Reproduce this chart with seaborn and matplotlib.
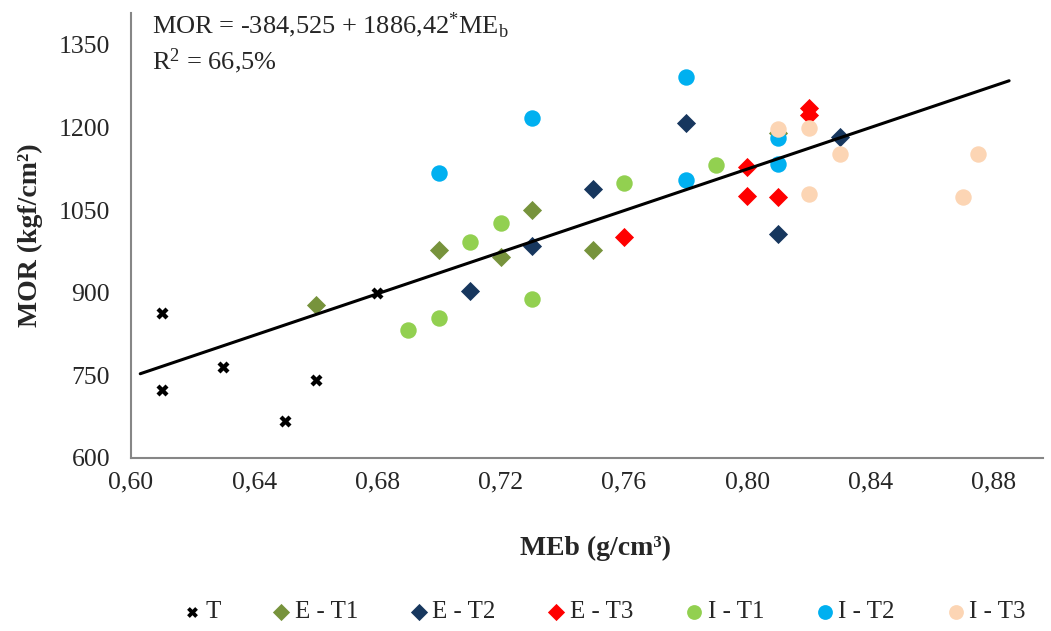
import matplotlib
matplotlib.use("Agg")
import matplotlib.pyplot as plt
import seaborn as sns
import numpy as np
from matplotlib.ticker import FixedLocator, FuncFormatter

# Measured panel density (MEb, g/cm³) and modulus of rupture (MOR, kgf/cm²)
t_meb = [0.61, 0.61, 0.63, 0.65, 0.66, 0.68]
t_mor = [863, 723, 765, 667, 742, 899]

e_t1_meb = [0.66, 0.70, 0.72, 0.73, 0.75, 0.81]
e_t1_mor = [878, 977, 965, 1050, 977, 1190]

e_t2_meb = [0.71, 0.73, 0.75, 0.78, 0.81, 0.83]
e_t2_mor = [903, 985, 1088, 1208, 1006, 1183]

e_t3_meb = [0.76, 0.80, 0.80, 0.81, 0.82, 0.82]
e_t3_mor = [1001, 1128, 1075, 1074, 1235, 1222]

i_t1_meb = [0.69, 0.70, 0.71, 0.72, 0.73, 0.76, 0.79]
i_t1_mor = [832, 854, 992, 1026, 889, 1099, 1132]

i_t2_meb = [0.70, 0.73, 0.78, 0.78, 0.81, 0.81]
i_t2_mor = [1117, 1218, 1291, 1104, 1181, 1134]

i_t3_meb = [0.81, 0.82, 0.82, 0.83, 0.87, 0.875]
i_t3_mor = [1197, 1199, 1079, 1152, 1074, 1152]

# Fitted regression: MOR = a + b * MEb
intercept = -384.525
slope = 1886.42
fit_range = [0.603, 0.885]

x_ticks = [0.60, 0.64, 0.68, 0.72, 0.76, 0.80, 0.84, 0.88]
y_ticks = [600, 750, 900, 1050, 1200, 1350]

sns.set_style("white")
plt.rcParams["font.family"] = ["Liberation Serif", "DejaVu Serif"]
plt.rcParams["mathtext.fontset"] = "custom"
plt.rcParams["mathtext.rm"] = "Liberation Serif"
plt.rcParams["mathtext.it"] = "Liberation Serif:italic"

W, H = 1051, 631
fig = plt.figure(figsize=(W / 100, H / 100), dpi=100)
ax = fig.add_axes([131 / W, 1 - 458 / H, 912 / W, 445 / H])

series = [
    ("T", t_meb, t_mor, "X", "#000000", 75),
    ("E - T1", e_t1_meb, e_t1_mor, "D", "#77933C", 95),
    ("E - T2", e_t2_meb, e_t2_mor, "D", "#17375E", 95),
    ("E - T3", e_t3_meb, e_t3_mor, "D", "#FF0000", 95),
    ("I - T1", i_t1_meb, i_t1_mor, "o", "#92D050", 140),
    ("I - T2", i_t2_meb, i_t2_mor, "o", "#00B0F0", 140),
    ("I - T3", i_t3_meb, i_t3_mor, "o", "#FCD5B4", 140),
]
for name, xs, ys, mk, col, size in series:
    sns.scatterplot(x=xs, y=ys, marker=mk, color=col, s=size, linewidth=0,
                    label=name, ax=ax, zorder=3)

fit_x = np.array(fit_range)
fit_y = intercept + slope * fit_x
sns.lineplot(x=fit_x, y=fit_y, color="black", linewidth=2.2, ax=ax, zorder=4,
             legend=False)

ax.set_xlim(0.60, 0.896)
ax.set_ylim(600, 1408)
ax.xaxis.set_major_locator(FixedLocator(x_ticks))
ax.yaxis.set_major_locator(FixedLocator(y_ticks))
ax.xaxis.set_major_formatter(FuncFormatter(lambda v, p: f"{v:.2f}".replace(".", ",")))
ax.yaxis.set_major_formatter(FuncFormatter(lambda v, p: f"{v:.0f}"))
ax.tick_params(axis="both", length=0, labelsize=18.5)
ax.tick_params(axis="y", pad=15)
ax.tick_params(axis="x", pad=10)

for side in ["top", "right"]:
    ax.spines[side].set_visible(False)
for side in ["left", "bottom"]:
    ax.spines[side].set_color("#868686")
    ax.spines[side].set_linewidth(1.5)

ax.set_xlabel("MEb (g/cm³)", fontsize=20, fontweight="bold", va="center")
ax.set_ylabel("MOR (kgf/cm²)", fontsize=20, fontweight="bold", va="center")
ax.xaxis.set_label_coords((596 - 131) / 912, (458 - 548) / 445)
ax.yaxis.set_label_coords((30 - 131) / 912, 0.5)

fig.text(152 / W, 1 - 25 / H,
         "MOR = -384,525 + 1886,42$^{*}$ME$_{\\mathrm{b}}$",
         fontsize=19, va="center", ha="left")
fig.text(152 / W, 1 - 61 / H, "R$^{2}$ = 66,5%",
         fontsize=19, va="center", ha="left")

handles, labels = ax.get_legend_handles_labels()
ax.get_legend().remove()
fig.legend(handles, labels, loc="center", bbox_to_anchor=(603 / W, 1 - 612 / H),
           ncol=7, frameon=False, fontsize=18, handletextpad=0.1,
           handlelength=0.9, columnspacing=1.97, markerscale=0.9)

fig.savefig("out.png", dpi=100)
